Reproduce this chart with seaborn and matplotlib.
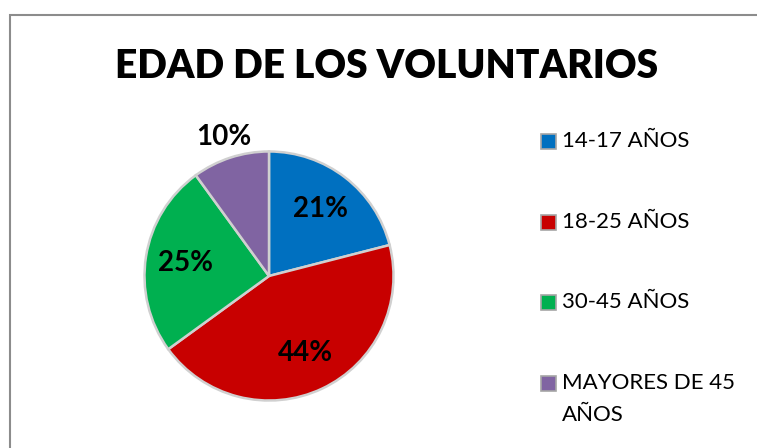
import numpy as np
import matplotlib
matplotlib.use("Agg")
import matplotlib.pyplot as plt
from matplotlib.patches import Rectangle
import seaborn as sns

labels = ["14-17 AÑOS", "18-25 AÑOS", "30-45 AÑOS", "MAYORES DE 45\nAÑOS"]
values = [21, 44, 25, 10]
colors = ["#0070C0", "#C80000", "#00B050", "#8064A2"]
title = "EDAD DE LOS VOLUNTARIOS"

sns.set_theme(style="white")
plt.rcParams["font.family"] = ["Lato", "DejaVu Sans"]

W, H = 757, 448
fig = plt.figure(figsize=(W / 100, H / 100), dpi=100)

# chart border (only left/top visible, runs off the image)
fig.patches.append(Rectangle((10 / W, -0.1), 1.2, 1 - 15 / H + 0.1,
                             transform=fig.transFigure, fill=False,
                             edgecolor="#8c8c8c", linewidth=1.5))

fig.text(387 / W, 1 - 66 / H, title, ha="center", va="center",
         fontsize=28, fontweight="heavy", color="black")

# pie
cx, cy, r = 269, 276, 127
ax = fig.add_axes([(cx - r) / W, (H - cy - r) / H, 2 * r / W, 2 * r / H])
wedges, texts, autotexts = ax.pie(
    values, colors=colors, startangle=90, counterclock=False,
    autopct="%1.0f%%", pctdistance=0.68,
    wedgeprops=dict(edgecolor="#d0d0d0", linewidth=1.8),
    textprops=dict(fontsize=20, fontweight="bold", color="black"))
ax.set_xlim(-1.02, 1.02)
ax.set_ylim(-1.02, 1.02)
ax.set_aspect("equal")
ax.axis("off")

# smallest slice label sits outside, as in the original
w = wedges[3]
mid = np.deg2rad((w.theta1 + w.theta2) / 2)
autotexts[3].set_position((1.17 * np.cos(mid), 1.17 * np.sin(mid)))

# legend drawn by hand to keep the marker beside the first line
rows = [141, 222, 302, 383]
for lab, col, yy in zip(labels, colors, rows):
    fig.patches.append(Rectangle((541 / W, 1 - (yy + 8) / H), 15 / W, 15 / H,
                                 transform=fig.transFigure, facecolor=col,
                                 edgecolor="#a6a6a6", linewidth=1.2))
    fig.text(562 / W, 1 - yy / H, lab.split("\n")[0], ha="left", va="center",
             fontsize=16, color="black")
    if "\n" in lab:
        fig.text(562 / W, 1 - (yy + 32) / H, lab.split("\n")[1], ha="left",
                 va="center", fontsize=16, color="black")

fig.savefig("out.png", dpi=100)
